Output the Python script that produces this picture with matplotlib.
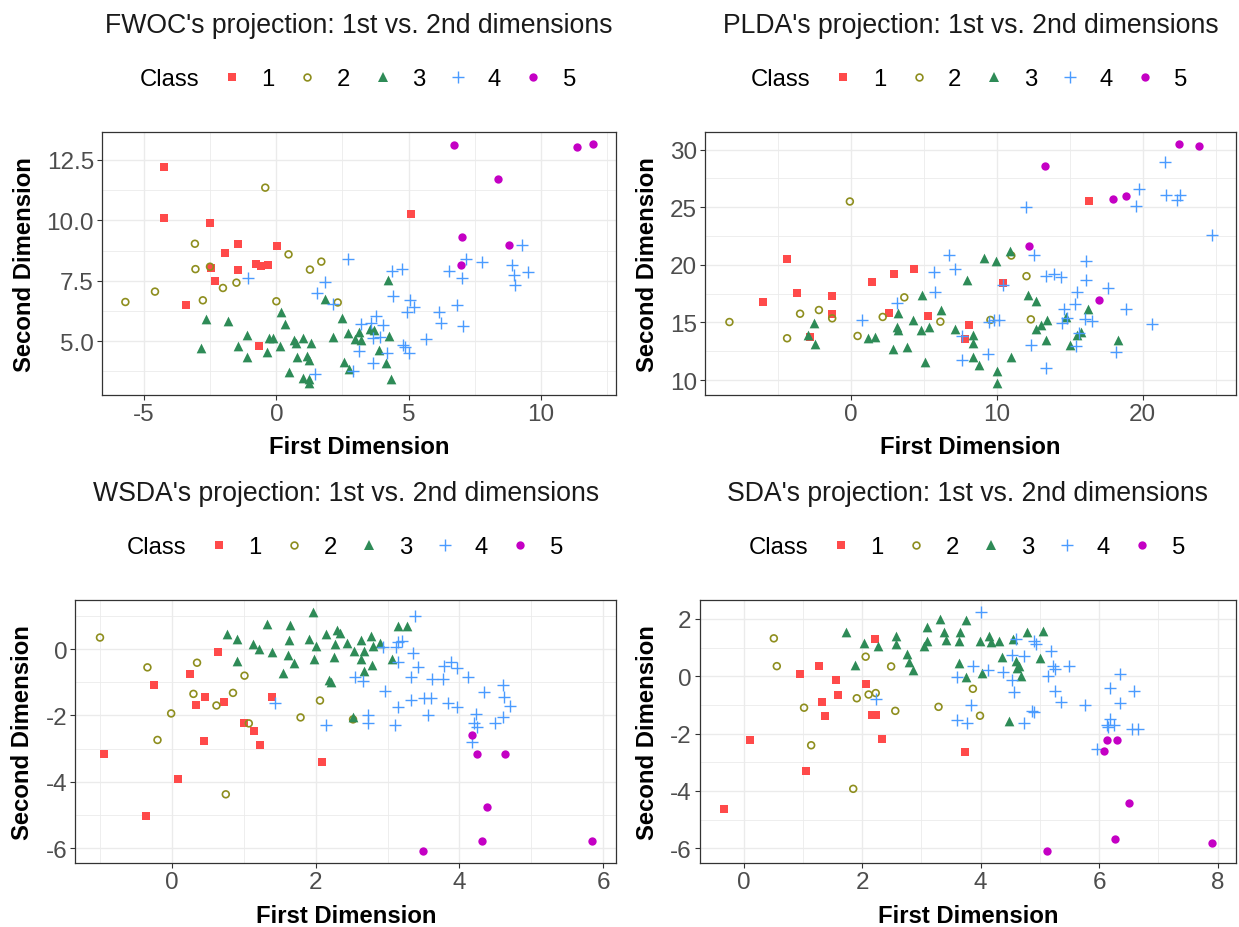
import matplotlib
matplotlib.use("Agg")
import matplotlib.pyplot as plt
from matplotlib.lines import Line2D
from matplotlib.ticker import MultipleLocator, FormatStrFormatter

plt.rcParams["font.family"] = ["Liberation Sans", "DejaVu Sans"]
plt.rcParams["axes.unicode_minus"] = False

# ---- FWOC: 1st vs 2nd dimension ----
FWOC_C1_X = [-4.25, -4.25, -2.51, -1.45, 0.01, -1.93, -0.76, -0.58, -0.31, -2.48, -1.45, -2.32, -3.41, -0.67, 5.11]
FWOC_C1_Y = [12.22, 10.09, 9.90, 9.00, 8.92, 8.66, 8.20, 8.09, 8.16, 8.03, 7.94, 7.50, 6.50, 4.81, 10.28]
FWOC_C2_X = [-0.42, -3.08, 0.46, 1.70, -3.06, -2.51, 1.27, -1.51, -2.02, -4.59, -5.71, -2.78, 0.00, 2.32]
FWOC_C2_Y = [11.35, 9.03, 8.59, 8.29, 7.98, 8.08, 7.96, 7.42, 7.20, 7.05, 6.62, 6.69, 6.65, 6.60]
FWOC_C3_X = [4.22, 1.85, 0.16, -2.65, -1.84, 0.33, 2.50, -1.11, -0.27, -0.12, 0.67, 1.02, 2.14, 2.72, 3.12,
             3.53, 3.71, 4.25, -2.86, -1.45, 0.13, 0.73, 1.30, -0.34, -1.11, 0.78, 1.15, 1.23, 2.97, 3.20,
             3.87, 2.54, 4.16, 0.46, 2.75, 0.99, 1.23, 1.23, 4.35]
FWOC_C3_Y = [7.54, 6.76, 6.20, 5.92, 5.83, 5.73, 5.96, 5.26, 5.15, 5.15, 5.06, 5.12, 5.17, 5.34, 5.39,
             5.52, 5.47, 5.21, 4.72, 4.81, 4.82, 4.92, 4.93, 4.55, 4.34, 4.33, 4.39, 4.22, 5.07, 5.04,
             4.63, 4.15, 4.08, 3.73, 3.83, 3.49, 3.45, 3.28, 3.42]
FWOC_C4_X = [-1.06, 2.72, 1.85, 1.55, 2.15, 4.39, 4.74, 4.42, 5.04, 4.95, 5.22, 3.78, 3.20, 3.57, 4.04,
             3.65, 3.92, 3.12, 3.65, 4.20, 4.77, 4.87, 5.02, 5.64, 2.90, 1.48, 6.14, 6.22, 6.53, 7.01,
             6.83, 7.04, 7.19, 7.79, 8.92, 8.98, 9.03, 9.52, 9.28]
FWOC_C4_Y = [7.61, 8.40, 7.45, 6.99, 6.53, 7.89, 8.00, 6.88, 6.72, 6.21, 6.42, 6.06, 5.69, 5.76, 5.65,
             5.14, 5.18, 4.59, 4.11, 4.49, 4.83, 4.75, 4.53, 5.07, 3.76, 3.65, 6.21, 5.76, 7.89, 7.61,
             6.49, 5.62, 8.40, 8.26, 8.14, 7.72, 7.31, 7.86, 8.99]
FWOC_C5_X = [6.73, 11.36, 11.96, 8.39, 7.03, 8.80, 6.97]
FWOC_C5_Y = [13.13, 13.05, 13.17, 11.70, 9.31, 8.99, 8.16]

# ---- PLDA ----
PLDA_C1_X = [-6.01, -4.35, -3.70, -1.29, -1.29, -2.79, 1.48, 2.95, 4.32, 2.63, 5.32, 8.13, 7.87, 10.47, 16.32]
PLDA_C1_Y = [16.80, 20.49, 17.58, 17.32, 15.76, 13.78, 18.50, 19.22, 19.65, 15.85, 15.53, 14.76, 13.54, 18.39, 25.56]
PLDA_C2_X = [-0.05, -8.30, -4.35, -3.46, -2.17, -1.26, 0.48, 2.20, 3.68, 6.15, 9.58, 11.01, 12.05, 12.35]
PLDA_C2_Y = [25.50, 15.04, 13.63, 15.76, 16.08, 15.36, 13.83, 15.48, 17.18, 15.07, 15.22, 20.81, 19.02, 15.27]
PLDA_C3_X = [-2.93, -2.50, -2.47, 1.21, 1.66, 2.90, 3.25, 3.19, 3.25, 4.27, 3.89, 4.89, 4.83, 5.40, 6.17,
             5.07, 7.17, 7.97, 9.13, 9.99, 10.93, 8.38, 8.38, 8.38, 8.78, 10.01, 10.01, 10.98, 12.16, 12.67,
             12.70, 13.07, 13.45, 13.42, 14.77, 15.03, 15.52, 15.76, 16.24, 18.34]
PLDA_C3_Y = [13.89, 14.93, 13.17, 13.63, 13.75, 12.68, 15.85, 14.61, 14.35, 15.24, 12.88, 17.38, 14.35, 14.61, 16.08,
             11.58, 14.47, 18.70, 20.61, 20.35, 21.18, 13.95, 13.26, 11.99, 11.33, 10.81, 9.77, 12.02, 17.35, 16.86,
             14.41, 14.76, 15.22, 13.52, 15.48, 13.05, 13.89, 14.21, 16.17, 13.46]
PLDA_C4_X = [0.75, 3.17, 5.69, 5.77, 6.77, 7.17, 7.65, 7.65, 9.42, 9.48, 9.80, 10.20, 10.47, 12.03, 12.54,
             12.38, 13.37, 13.96, 14.42, 13.37, 14.63, 14.50, 14.85, 15.36, 15.52, 15.44, 15.65, 16.16, 16.11, 16.03,
             16.56, 17.66, 18.20, 18.85, 19.54, 19.79, 20.62, 21.53, 21.61, 22.34, 22.55, 24.75]
PLDA_C4_Y = [15.24, 16.66, 19.42, 17.64, 20.84, 19.68, 13.83, 11.73, 12.28, 15.04, 15.24, 15.22, 18.24, 25.01, 20.84,
             13.08, 19.05, 19.25, 18.99, 11.04, 16.14, 14.99, 15.42, 16.63, 17.64, 12.97, 14.12, 20.35, 18.70, 15.33,
             15.10, 17.98, 12.45, 16.20, 25.10, 26.57, 14.90, 28.96, 26.08, 25.65, 26.05, 22.56]
PLDA_C5_X = [13.34, 22.50, 23.89, 17.96, 18.85, 12.21, 16.99]
PLDA_C5_Y = [28.59, 30.52, 30.29, 25.71, 26.02, 21.61, 16.95]

# ---- WSDA ----
WSDA_C1_X = [-0.94, -0.25, 0.25, 0.64, 0.46, 0.33, 0.72, 1.39, 1.00, 1.14, 1.23, 0.45, 0.08, -0.36, 2.09]
WSDA_C1_Y = [-3.16, -1.07, -0.76, -0.08, -1.43, -1.68, -1.58, -1.44, -2.24, -2.48, -2.90, -2.76, -3.91, -5.04, -3.41]
WSDA_C2_X = [-1.00, -0.34, 0.35, 1.01, 0.85, 0.30, 0.62, -0.01, -0.20, 1.07, 1.79, 2.06, 2.52, 0.75]
WSDA_C2_Y = [0.35, -0.55, -0.41, -0.80, -1.32, -1.35, -1.70, -1.94, -2.74, -2.24, -2.06, -1.55, -2.12, -4.38]
WSDA_C3_X = [0.77, 0.91, 0.91, 1.13, 1.21, 1.33, 1.39, 1.65, 1.63, 1.62, 1.70, 1.55, 1.96, 1.91, 2.01,
             1.98, 2.14, 2.29, 2.34, 2.27, 2.26, 2.19, 2.21, 2.43, 2.53, 2.63, 2.63, 2.67, 2.77, 2.80,
             2.78, 2.67, 2.89, 3.06, 3.14, 3.27, 2.52]
WSDA_C3_Y = [0.45, 0.32, -0.36, 0.14, -0.01, 0.75, -0.08, 0.72, 0.29, -0.17, -0.41, -0.71, 1.13, 0.30, 0.10,
             -0.30, 0.47, 0.59, 0.49, 0.15, -0.25, -0.93, -0.98, 0.19, -0.05, 0.27, -0.31, -0.05, 0.39, 0.10,
             -0.47, -0.67, 0.20, -0.31, 0.70, 0.70, -2.04]
WSDA_C4_X = [3.38, 3.15, 3.20, 2.93, 3.12, 3.36, 3.15, 3.42, 2.55, 2.66, 2.96, 3.32, 3.62, 3.77, 3.79,
             3.88, 3.97, 4.12, 4.34, 4.60, 4.62, 4.71, 3.33, 3.51, 3.61, 3.14, 3.84, 3.97, 3.56, 2.73,
             2.73, 2.14, 3.11, 1.44, 4.23, 4.20, 4.25, 4.50, 4.61, 4.17]
WSDA_C4_Y = [1.00, 0.22, 0.24, 0.07, 0.07, -0.11, -0.39, -0.53, -0.83, -0.95, -1.25, -0.84, -0.91, -0.91, -0.50,
             -0.40, -0.56, -0.85, -1.30, -1.08, -1.44, -1.72, -1.52, -1.47, -1.47, -1.74, -1.64, -1.74, -1.98, -2.00,
             -2.22, -2.29, -2.29, -1.62, -1.97, -2.24, -2.34, -2.24, -2.04, -2.80]
WSDA_C5_X = [4.18, 4.25, 4.63, 4.38, 4.32, 3.50, 5.84]
WSDA_C5_Y = [-2.59, -3.17, -3.17, -4.75, -5.78, -6.10, -5.78]

# ---- SDA ----
SDA_C1_X = [-0.33, 0.11, 1.05, 0.96, 1.27, 1.56, 1.59, 1.33, 1.38, 2.07, 2.21, 2.16, 2.23, 2.34, 3.73]
SDA_C1_Y = [-4.64, -2.24, -3.32, 0.09, 0.34, -0.12, -0.67, -0.90, -1.40, -0.29, 1.31, -1.34, -1.34, -2.20, -2.63]
SDA_C2_X = [0.51, 0.56, 1.02, 1.14, 1.85, 1.91, 2.06, 2.11, 2.23, 2.49, 2.56, 3.29, 3.87, 3.99]
SDA_C2_Y = [1.32, 0.35, -1.10, -2.41, -3.93, -0.77, 0.68, -0.64, -0.59, 0.34, -1.21, -1.07, -0.44, -1.38]
SDA_C3_X = [1.73, 1.88, 2.04, 2.27, 2.58, 2.58, 2.76, 2.80, 2.86, 3.05, 3.10, 3.10, 3.32, 3.39, 3.42,
            3.65, 3.63, 3.76, 3.63, 3.75, 3.99, 4.14, 4.18, 4.31, 4.03, 4.36, 4.55, 4.60, 4.65, 4.68,
            4.79, 5.01, 5.06, 4.48, 4.61]
SDA_C3_Y = [1.53, 0.39, 1.16, 1.06, 1.41, 1.12, 0.78, 0.49, 0.21, 1.04, 1.23, 1.70, 1.99, 1.53, 1.26,
            1.55, 1.23, 1.97, 0.46, -0.03, 1.24, 1.41, 1.18, 1.21, 0.10, 0.66, 1.30, 0.54, 0.37, 0.02,
            1.53, 0.64, 1.59, -1.58, 0.28]
SDA_C4_X = [4.00, 3.61, 3.87, 4.13, 4.38, 4.53, 4.57, 4.53, 4.74, 4.59, 4.90, 4.93, 5.19, 5.14, 5.22,
            5.26, 5.49, 5.25, 5.36, 5.77, 2.24, 3.84, 3.61, 3.77, 4.74, 4.86, 4.91, 6.19, 6.35, 6.59,
            6.35, 6.18, 6.13, 6.25, 6.55, 6.65, 5.97, 6.15]
SDA_C4_Y = [2.25, -0.03, 0.34, 0.20, 0.16, -0.12, -0.56, 0.75, 0.72, 1.30, 1.23, 1.12, 0.87, 0.02, 0.35,
            0.26, 0.37, -0.53, -0.90, -0.99, -0.81, -1.02, -1.52, -1.62, -1.62, -1.22, -1.25, -0.42, 0.08, -0.53,
            -0.94, -1.48, -1.72, -1.72, -1.83, -1.83, -2.55, -1.77]
SDA_C5_X = [6.08, 6.13, 6.30, 6.51, 6.27, 5.12, 7.90]
SDA_C5_Y = [-2.61, -2.21, -2.21, -4.41, -5.67, -6.11, -5.81]

CLASS_LABELS = ["1", "2", "3", "4", "5"]

# marker styles per class (ggplot-ish shapes)
STYLES = [
    dict(marker="s", ms=5.4, color="#FF4A4A", fill=True, lw=0),
    dict(marker="o", ms=4.9, color="#8E8E1E", fill=False, lw=1.2),
    dict(marker="^", ms=7.0, color="#2E8B57", fill=True, lw=0),
    dict(marker="+", ms=8.6, color="#4A9BFF", fill=True, lw=1.0),
    dict(marker="o", ms=6.0, color="#C400C4", fill=True, lw=0),
]

W, H = 1239, 928
fig = plt.figure(figsize=(W / 100, H / 100), dpi=100)

# panel boxes in pixels: left, right, top, bottom ; ylabel offset px
panels = [
    ("FWOC's projection: 1st vs. 2nd dimensions",
     [(FWOC_C1_X, FWOC_C1_Y), (FWOC_C2_X, FWOC_C2_Y), (FWOC_C3_X, FWOC_C3_Y), (FWOC_C4_X, FWOC_C4_Y), (FWOC_C5_X, FWOC_C5_Y)],
     (102, 616, 132.7, 395.7), 77.5, 5, 2.5, "%.1f"),
    ("PLDA's projection: 1st vs. 2nd dimensions",
     [(PLDA_C1_X, PLDA_C1_Y), (PLDA_C2_X, PLDA_C2_Y), (PLDA_C3_X, PLDA_C3_Y), (PLDA_C4_X, PLDA_C4_Y), (PLDA_C5_X, PLDA_C5_Y)],
     (705.3, 1236, 132.7, 395.7), 57.7, 10, 5, "%d"),
    ("WSDA's projection: 1st vs. 2nd dimensions",
     [(WSDA_C1_X, WSDA_C1_Y), (WSDA_C2_X, WSDA_C2_Y), (WSDA_C3_X, WSDA_C3_Y), (WSDA_C4_X, WSDA_C4_Y), (WSDA_C5_X, WSDA_C5_Y)],
     (75.4, 616.3, 600.7, 864.3), 52.6, 2, 2, "%d"),
    ("SDA's projection: 1st vs. 2nd dimensions",
     [(SDA_C1_X, SDA_C1_Y), (SDA_C2_X, SDA_C2_Y), (SDA_C3_X, SDA_C3_Y), (SDA_C4_X, SDA_C4_Y), (SDA_C5_X, SDA_C5_Y)],
     (699.7, 1236, 600.7, 864.3), 52.1, 2, 2, "%d"),
]

for title, series, (l, r, t, b), ylab_off, xstep, ystep, yfmt in panels:
    ax = fig.add_axes([l / W, 1 - b / H, (r - l) / W, (b - t) / H])
    wpx, hpx = r - l, b - t

    for (xs, ys), st in zip(series, STYLES):
        if st["marker"] == "+":
            ax.scatter(xs, ys, marker="+", s=st["ms"] ** 2, c=st["color"],
                       linewidths=st["lw"], zorder=3)
        elif st["fill"]:
            ax.scatter(xs, ys, marker=st["marker"], s=st["ms"] ** 2, c=st["color"],
                       linewidths=0, zorder=3)
        else:
            ax.scatter(xs, ys, marker=st["marker"], s=st["ms"] ** 2, facecolors="none",
                       edgecolors=st["color"], linewidths=st["lw"], zorder=3)

    ax.margins(0.05)
    ax.xaxis.set_major_locator(MultipleLocator(xstep))
    ax.xaxis.set_minor_locator(MultipleLocator(xstep / 2))
    ax.yaxis.set_major_locator(MultipleLocator(ystep))
    ax.yaxis.set_minor_locator(MultipleLocator(ystep / 2))
    ax.yaxis.set_major_formatter(FormatStrFormatter(yfmt))
    ax.xaxis.set_major_formatter(FormatStrFormatter("%d"))

    ax.grid(True, which="major", color="#EBEBEB", linewidth=1.0, zorder=0)
    ax.grid(True, which="minor", color="#EBEBEB", linewidth=0.6, zorder=0)
    ax.set_axisbelow(True)
    for sp in ax.spines.values():
        sp.set_color("#333333")
        sp.set_linewidth(0.9)
    ax.tick_params(which="major", length=3.3, width=0.8, color="#333333",
                   labelsize=17.5, labelcolor="#4D4D4D", pad=2.5)
    ax.tick_params(which="minor", length=0)

    ax.set_xlabel("First Dimension", fontsize=17.2, fontweight="bold", va="baseline")
    ax.xaxis.set_label_coords(0.5, -58.3 / hpx)
    ax.set_ylabel("Second Dimension", fontsize=17.2, fontweight="bold", va="center")
    ax.yaxis.set_label_coords(-ylab_off / wpx, 0.5)

    ax.text(0.5, 1 + 99.4 / hpx, title, transform=ax.transAxes, ha="center",
            va="baseline", fontsize=19.2, color="#1A1A1A")

    handles = [Line2D([], [], linestyle="none")]
    for st in STYLES:
        if st["fill"]:
            handles.append(Line2D([], [], linestyle="none", marker=st["marker"], markersize=st["ms"],
                                  color=st["color"], markeredgewidth=st["lw"] if st["marker"] == "+" else 0))
        else:
            handles.append(Line2D([], [], linestyle="none", marker=st["marker"], markersize=st["ms"],
                                  markerfacecolor="none", markeredgecolor=st["color"],
                                  markeredgewidth=st["lw"]))
    ax.legend(handles, ["Class"] + CLASS_LABELS, ncol=6, loc="center",
              bbox_to_anchor=(0.5 - 21.9 / wpx, 1 + 52.2 / hpx), frameon=False,
              fontsize=17.2, handlelength=1.0, handletextpad=0.73, columnspacing=0.87,
              borderpad=0, borderaxespad=0)

fig.savefig("out.png", dpi=100)
